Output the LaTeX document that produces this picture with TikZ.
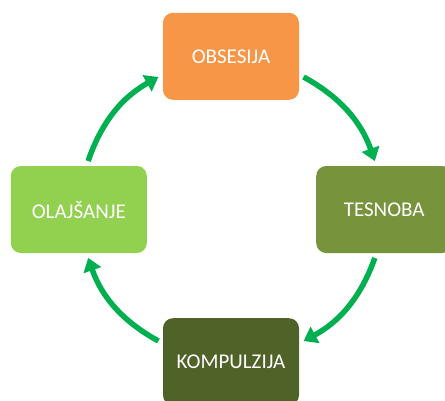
\documentclass[tikz,border=0pt]{standalone}
\usepackage{fontspec}
\setmainfont{Carlito}
\usetikzlibrary{positioning}
\usetikzlibrary{arrows.meta}
\definecolor{obsorange}{HTML}{F79646}
\definecolor{tesgreen}{HTML}{77933C}
\definecolor{kompgreen}{HTML}{4F6228}
\definecolor{olagreen}{HTML}{92D050}
\definecolor{arrowgreen}{HTML}{00B050}

\begin{document}
\begin{tikzpicture}[x=1pt, y=1pt, box/.style={rounded corners=10pt, minimum width=136pt, minimum height=87pt, text=white, font=\fontsize{21}{25}\selectfont}, cyclearrow/.style={arrowgreen, line width=5.5pt, -{Triangle[length=13pt,width=18pt]}, shorten <=5pt, shorten >=5pt}]
            \useasboundingbox (0,0) rectangle (445,400);
            \coordinate (mid) at (231,190.5);

            \node[box, fill=obsorange, above = 109.5pt of mid] (obs) {OBSESIJA};
            \node[box, fill=tesgreen, right = 85pt of mid] (tes) {TESNOBA};
            \node[box, fill=kompgreen, below = 108.5pt of mid] (komp) {KOMPULZIJA};
            \node[box, fill=olagreen, left = 84pt of mid] (ola) {OLAJŠANJE};

            \draw[cyclearrow] (obs.-15) to[bend left=21] (tes.100);
            \draw[cyclearrow] (tes.-100) to[bend left=21] (komp.15);
            \draw[cyclearrow] (komp.165) to[bend left=21] (ola.-80);
            \draw[cyclearrow] (ola.80) to[bend left=21] (obs.195);
        \end{tikzpicture}
\end{document}
